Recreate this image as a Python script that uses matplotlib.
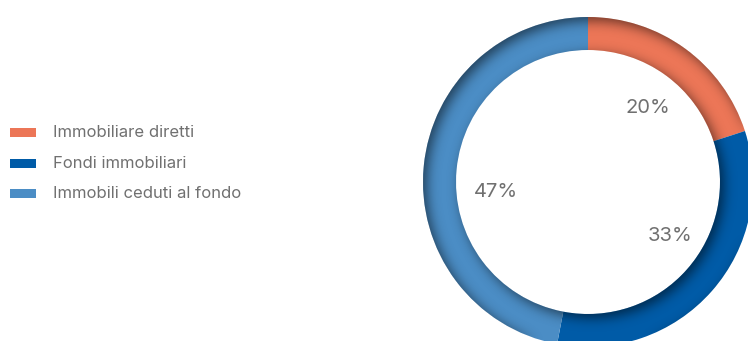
import numpy as np
import matplotlib
matplotlib.use("Agg")
import matplotlib.pyplot as plt
from matplotlib.patches import Rectangle

labels = ["Immobiliare diretti", "Fondi immobiliari", "Immobili ceduti al fondo"]
shares = [20, 33, 47]
colors = ["#EC7657", "#005BA7", "#4B8DC5"]
# where each percentage sits, in pixels from top-left
label_pos = [(648, 108), (670, 236), (496, 192)]

W, H = 748, 341
cx, cy = 588, H - 182
r_out, r_in = 165, 132

plt.rcParams["font.family"] = ["Inter", "DejaVu Sans"]

fig = plt.figure(figsize=(W / 100, H / 100), dpi=100)
ax = fig.add_axes([0, 0, 1, 1])
ax.set_xlim(0, W)
ax.set_ylim(0, H)
ax.set_aspect("equal")
ax.axis("off")

ax.pie(shares, colors=colors, startangle=90, counterclock=False,
       center=(cx, cy), radius=r_out,
       wedgeprops=dict(width=r_out - r_in, linewidth=0))
ax.set_xlim(0, W)
ax.set_ylim(0, H)

# inner shadow on the ring, light coming from the lower right
yy, xx = np.mgrid[0:H, 0:W] + 0.5
rr = np.hypot(xx - cx, yy - cy)
ring = np.clip(rr - r_in + 0.5, 0, 1) * np.clip(r_out - rr + 0.5, 0, 1)
outside = 1 - ring
dx, dy = 4, -4
shifted = np.roll(np.roll(outside, dx, axis=1), dy, axis=0)

def blur(a, sigma):
    k = np.arange(-3 * sigma, 3 * sigma + 1)
    g = np.exp(-k ** 2 / (2 * sigma ** 2))
    g /= g.sum()
    a = np.apply_along_axis(lambda v: np.convolve(v, g, mode="same"), 0, a)
    a = np.apply_along_axis(lambda v: np.convolve(v, g, mode="same"), 1, a)
    return a

shade = blur(shifted, 6) * ring
img = np.zeros((H, W, 4))
img[..., 3] = np.clip(shade * 0.55, 0, 1)
ax.imshow(img, extent=(0, W, 0, H), origin="lower", zorder=3, interpolation="bilinear")

for s, (px, py) in zip(shares, label_pos):
    ax.text(px, H - py, f"{s}%", ha="center", va="center",
            fontsize=14.5, color="#707070", zorder=4)

# legend
for i, (lab, col) in enumerate(zip(labels, colors)):
    y = H - (132.5 + 30.5 * i)
    ax.add_patch(Rectangle((10, y - 4.5), 26, 9, color=col, lw=0, zorder=4))
    ax.text(53, y, lab, ha="left", va="center", fontsize=12,
            color="#707070", zorder=4)

fig.savefig("out.png", dpi=100)
